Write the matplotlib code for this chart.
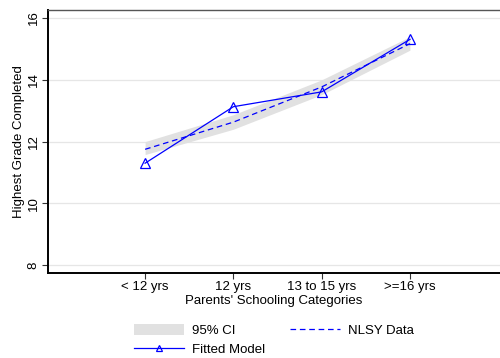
import matplotlib.pyplot as plt

plt.rcParams['font.family'] = ['Liberation Sans', 'DejaVu Sans']

categories = ['< 12 yrs', '12 yrs', '13 to 15 yrs', '>=16 yrs']
fitted_model = [11.30, 13.13, 13.61, 15.31]
nlsy_data = [11.75, 12.63, 13.77, 15.17]
ci_low = [11.58, 12.40, 13.52, 14.96]
ci_high = [12.00, 12.87, 14.00, 15.40]
y_ticks = [8, 10, 12, 14, 16]

blue = '#0000ff'
fs = 9.5
x = list(range(1, len(categories) + 1))

fig = plt.figure(figsize=(5.0, 3.58), dpi=100)
ax = fig.add_axes([0.096, 0.237, 0.904, 0.735])

ax.fill_between(x, ci_low, ci_high, color='#e1e1e1', linewidth=0, label='95% CI', zorder=1)
ax.plot(x, fitted_model, color=blue, linewidth=0.9, marker='^', markersize=6.5,
        markerfacecolor='none', markeredgecolor=blue, markeredgewidth=0.9,
        label='Fitted Model', zorder=3)
ax.plot(x, nlsy_data, color=blue, linewidth=0.9, linestyle=(0, (4.5, 3)),
        label='NLSY Data', zorder=2)

ax.set_xlim(-0.1, 5.02)
ax.set_ylim(7.74, 16.26)
ax.set_xticks(x)
ax.set_xticklabels(categories, fontsize=fs)
ax.set_yticks(y_ticks)
ax.set_yticklabels([str(t) for t in y_ticks], fontsize=fs, rotation=90, va='center')
ax.tick_params(axis='both', length=4, width=0.8, color='#333333', pad=2)
ax.grid(axis='y', color='#e6e6e6', linewidth=0.9)
ax.set_axisbelow(True)

ax.spines['left'].set_linewidth(1.4)
ax.spines['bottom'].set_linewidth(1.4)
ax.spines['top'].set_color('#555555')
ax.spines['top'].set_linewidth(1.0)
ax.spines['right'].set_visible(False)

ax.set_xlabel("Parents' Schooling Categories", fontsize=fs, labelpad=1)
ax.set_ylabel('Highest Grade Completed', fontsize=fs, labelpad=2)

# legend below the plot: CI and fitted model in the first column, data in the second
handles, labels = ax.get_legend_handles_labels()
order = [labels.index('95% CI'), labels.index('Fitted Model'), labels.index('NLSY Data')]
fig.legend([handles[i] for i in order], [labels[i] for i in order],
           loc='upper left', bbox_to_anchor=(0.268, 0.095), ncol=2, frameon=False,
           fontsize=fs, handlelength=3.8, handleheight=0.95, handletextpad=0.6,
           columnspacing=1.85, labelspacing=0.4, borderpad=0, borderaxespad=0,
           markerscale=0.7)

fig.savefig('out.png', dpi=100)
